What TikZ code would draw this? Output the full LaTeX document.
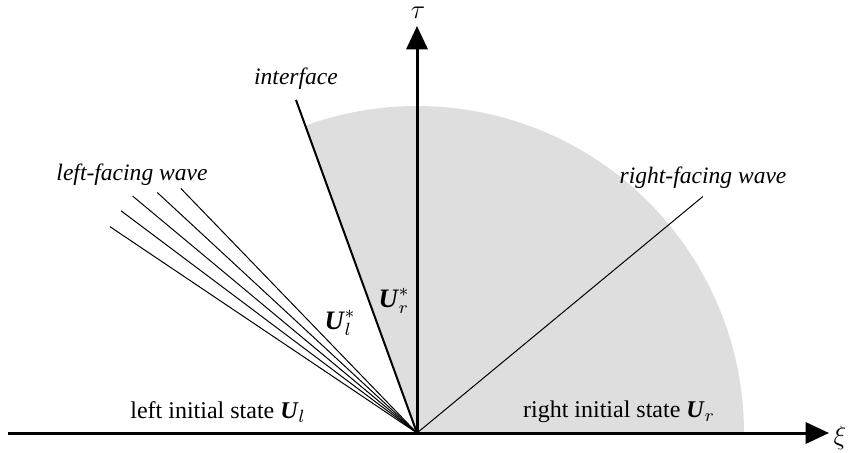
\documentclass[tikz,border=0pt]{standalone}
\usepackage{fontspec}
\setmainfont{Liberation Serif}
\usetikzlibrary{arrows.meta,calc}
\newcommand{\bU}{\textbf{\textit{U}}}
\begin{document}
\begin{tikzpicture}[x=0.45pt,y=-0.45pt,
  axis/.style={line width=1.35pt,-{Triangle[width=9.5pt,length=10.5pt]}},
  iface/.style={line width=0.9pt},
  wave/.style={line width=0.45pt},
  lbl/.style={font=\fontsize{10.6}{12}\selectfont\itshape,inner sep=0pt},
  txt/.style={font=\fontsize{10.8}{13}\selectfont,inner sep=0pt},
  star/.style={font=\fontsize{12}{14}\selectfont,inner sep=0pt}]
\useasboundingbox (0,0) rectangle (848,452);
\coordinate (O) at (417,433);
% gray sector
\fill[black!13] (O) -- ++(-0:327) arc[start angle=0,end angle=-109.9,radius=327] -- cycle;
% left-facing waves
\foreach \a/\r [count=\i] in {146.1/370,143.1/370,140.2/370,137.2/354,134/340}{
  \coordinate (L\i) at ($(O)+(-\a:\r)$);
  \draw[wave] (O) -- (L\i);
}
% right-facing wave
\coordinate (R) at ($(O)+(-39.6:371)$);
\draw[wave] (O) -- (R);
% interface
\coordinate (I) at (296,100);
\draw[iface] (O) -- (I);
% axes
\coordinate (XS) at (8,433);
\coordinate (XE) at (829,433);
\coordinate (YE) at (417,26);
\draw[axis] (XS) -- (XE);
\draw[axis] (O) -- (YE);
% labels
\node[star] (tau) at (418,13) {$\tau$};
\node[star] (xi) at (840,438) {$\xi$};
\node[lbl] (iflbl) at (296,79) {interface};
\node[lbl] (lfw) at (132,175) {left-facing wave};
\node[lbl] (rfw) at (703,178) {right-facing wave};
\node[star] (ULs) at (340,323) {$\bU_l^*$};
\node[star] (URs) at (394,301) {$\bU_r^*$};
\node[txt] (lis) at (218,412) {left initial state $\bU_l$};
\node[txt] (ris) at (619,412) {right initial state $\bU_r$};
\end{tikzpicture}
\end{document}
